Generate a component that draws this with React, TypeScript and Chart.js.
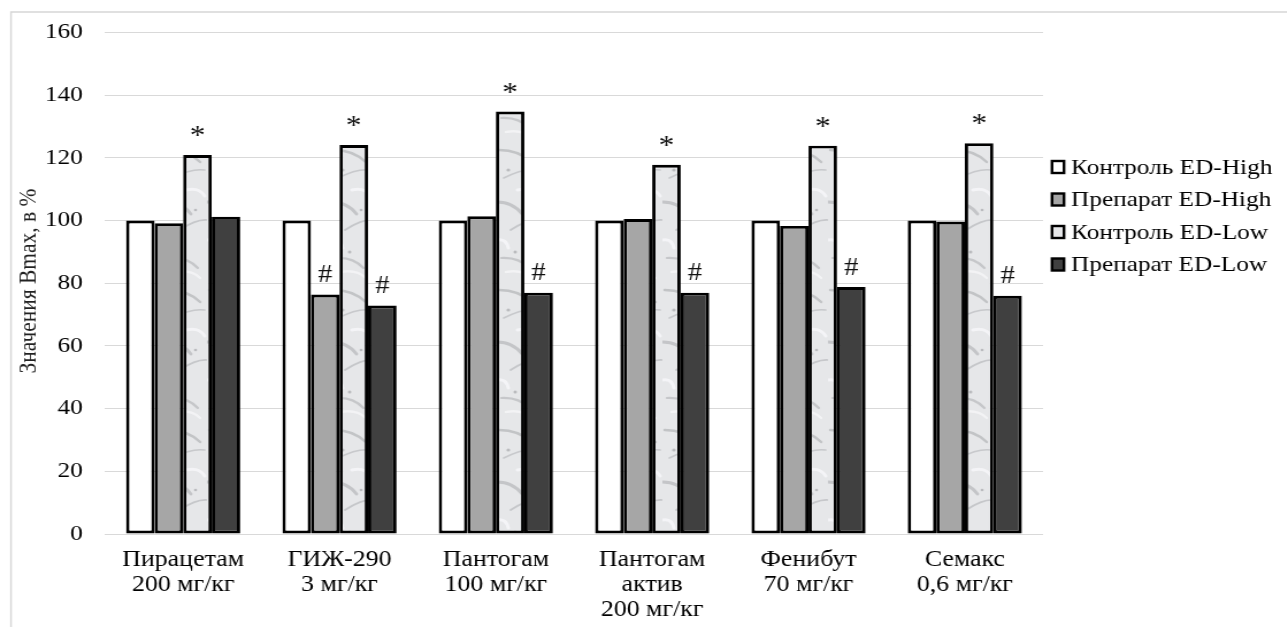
import React, { useEffect, useRef } from "react";
import { Chart, registerables } from "chart.js";
Chart.register(...registerables);

// ---- data ----
const categories: string[][] = [
  ["Пирацетам", "200 мг/кг"],
  ["ГИЖ-290", "3 мг/кг"],
  ["Пантогам", "100 мг/кг"],
  ["Пантогам", "актив", "200 мг/кг"],
  ["Фенибут", "70 мг/кг"],
  ["Семакс", "0,6 мг/кг"],
];
const seriesNames = ["Контроль ED-High", "Препарат ED-High", "Контроль ED-Low", "Препарат ED-Low"];
const controlHigh = [100, 100, 100, 100, 100, 100];
const drugHigh = [99.2, 76.4, 101.4, 100.5, 98.3, 99.7];
const controlLow = [120.9, 124.1, 134.8, 117.8, 123.9, 124.7];
const drugLow = [101.2, 72.9, 77.0, 77.0, 78.8, 76.0];
const controlHighMarks = ["", "", "", "", "", ""];
const drugHighMarks = ["", "#", "", "", "", ""];
const controlLowMarks = ["*", "*", "*", "*", "*", "*"];
const drugLowMarks = ["", "#", "#", "#", "#", "#"];
const yMin = 0;
const yMax = 160;
const yStep = 20;
const yTitle = "Значения Bmax, в %";

// ---- styling ----
const STRETCH = 1.15;
const W = Math.round(1287 / STRETCH);
const H = 627;
const FONT = "'Liberation Serif', 'Times New Roman', serif";

function makeMarble(): CanvasPattern | string {
  const pc = document.createElement("canvas");
  pc.width = 36;
  pc.height = 140;
  const g = pc.getContext("2d");
  if (!g) return "#e8e9eb";
  g.fillStyle = "#e6e7e9";
  g.fillRect(0, 0, 36, 140);
  g.lineCap = "round";
  const streaks = [
    [2, 10, 30, 22, "rgba(150,152,156,0.45)", 2.4],
    [6, 38, 34, 30, "rgba(170,172,176,0.5)", 1.5],
    [0, 62, 22, 74, "rgba(145,147,151,0.4)", 2.8],
    [12, 90, 36, 80, "rgba(165,167,171,0.5)", 1.7],
    [4, 118, 28, 128, "rgba(150,152,156,0.4)", 2.2],
    [18, 50, 34, 56, "rgba(248,248,250,0.8)", 3.0],
    [0, 100, 10, 108, "rgba(248,248,250,0.8)", 3.0],
    [8, 132, 30, 138, "rgba(248,248,250,0.7)", 2.5],
  ];
  for (const s of streaks) {
    g.strokeStyle = s[4] as string;
    g.lineWidth = s[5] as number;
    g.beginPath();
    const x0 = s[0] as number, y0 = s[1] as number, x1 = s[2] as number, y1 = s[3] as number;
    g.moveTo(x0, y0);
    g.quadraticCurveTo((x0 + x1) / 2 + 3, (y0 + y1) / 2 - 6, x1, y1);
    g.stroke();
  }
  g.fillStyle = "rgba(120,122,126,0.4)";
  const spots = [[10, 30, 1.6], [26, 70, 1.3], [16, 112, 1.5]];
  for (const [sx, sy, r] of spots) {
    g.beginPath();
    g.arc(sx, sy, r, 0, Math.PI * 2);
    g.fill();
  }
  const pat = g.createPattern(pc, "repeat");
  return pat || "#e8e9eb";
}

const fills = ["#ffffff", "#a6a6a6", "MARBLE", "#404040"];
const legendFills = ["#ffffff", "#a6a6a6", "#e6e7e9", "#404040"];

export default function App() {
  const ref = useRef<HTMLCanvasElement>(null);
  useEffect(() => {
    const canvas = ref.current;
    if (!canvas) return;
    const marble = makeMarble();
    const values = [controlHigh, drugHigh, controlLow, drugLow];
    const marks = [controlHighMarks, drugHighMarks, controlLowMarks, drugLowMarks];

    const framePlugin = {
      id: "frame",
      beforeDraw(chart: any) {
        const ctx = chart.ctx;
        ctx.save();
        ctx.fillStyle = "#ffffff";
        ctx.fillRect(0, 0, chart.width, chart.height);
        ctx.strokeStyle = "#d6d6d6";
        ctx.lineWidth = 1.4;
        ctx.beginPath();
        ctx.moveTo(11 / STRETCH, chart.height + 5);
        ctx.lineTo(11 / STRETCH, 12);
        ctx.lineTo(chart.width + 5, 12);
        ctx.stroke();
        ctx.restore();
      },
    };

    const marksPlugin = {
      id: "marks",
      afterDatasetsDraw(chart: any) {
        const ctx = chart.ctx;
        ctx.save();
        ctx.fillStyle = "#111";
        ctx.textAlign = "center";
        ctx.textBaseline = "middle";
        marks.forEach((arr, i) => {
          const meta = chart.getDatasetMeta(i);
          arr.forEach((m, j) => {
            if (!m) return;
            const el = meta.data[j];
            if (m === "*") {
              ctx.font = `27px ${FONT}`;
              ctx.fillText(m, el.x, el.y - 18);
            } else {
              ctx.font = `25px ${FONT}`;
              ctx.fillText(m, el.x, el.y - 19);
            }
          });
        });
        ctx.restore();
      },
    };

    const legendPlugin = {
      id: "customLegend",
      afterDraw(chart: any) {
        const ctx = chart.ctx;
        ctx.save();
        const bx = 1052 / STRETCH;
        const bw = 12 / STRETCH;
        const bh = 12;
        const tx = 1071 / STRETCH;
        chart.data.datasets.forEach((ds: any, i: number) => {
          const cy = 167 + i * 32.5;
          ctx.fillStyle = legendFills[i];
          ctx.fillRect(bx, cy - bh / 2, bw, bh);
          ctx.strokeStyle = "#000";
          ctx.lineWidth = 2.4;
          ctx.strokeRect(bx, cy - bh / 2, bw, bh);
          ctx.fillStyle = "#000";
          ctx.font = `22px ${FONT}`;
          ctx.textAlign = "left";
          ctx.textBaseline = "middle";
          ctx.fillText(ds.label, tx, cy + 1);
        });
        ctx.restore();
      },
    };

    const yTitlePlugin = {
      id: "yTitle",
      afterDraw(chart: any) {
        const ctx = chart.ctx;
        ctx.save();
        ctx.font = `22px ${FONT}`;
        const w = ctx.measureText(yTitle).width;
        ctx.translate(29.5 / STRETCH, 281);
        ctx.rotate(-Math.PI / 2);
        ctx.scale(185 / w, 0.92);
        ctx.fillStyle = "#222";
        ctx.textAlign = "center";
        ctx.textBaseline = "middle";
        ctx.fillText(yTitle, 0, 0);
        ctx.restore();
      },
    };

    const chart = new Chart(canvas, {
      type: "bar",
      data: {
        labels: categories,
        datasets: seriesNames.map((name, i) => ({
          label: name,
          data: values[i],
          backgroundColor: fills[i] === "MARBLE" ? (marble as any) : fills[i],
          borderColor: "#000",
          borderWidth: 2.9,
          borderSkipped: false,
          categoryPercentage: 0.73,
          barPercentage: 1.0,
        })),
      },
      options: {
        responsive: false,
        animation: false,
        devicePixelRatio: 1,
        layout: { padding: { top: 32, right: W - 1043 / STRETCH, left: 0, bottom: 0 } },
        plugins: {
          legend: { display: false },
          tooltip: { enabled: false },
        },
        scales: {
          x: {
            grid: { display: false, drawTicks: false },
            border: { display: false },
            ticks: {
              font: { family: FONT, size: 22.5, lineHeight: 1.11 },
              color: "#000",
              padding: 14,
              maxRotation: 0,
              autoSkip: false,
            },
            afterFit: (s: any) => {
              s.height = 93;
            },
          },
          y: {
            min: yMin,
            max: yMax,
            ticks: {
              stepSize: yStep,
              font: { family: FONT, size: 22 },
              color: "#000",
              padding: 105 / STRETCH - 82.7 / STRETCH,
            },
            grid: { color: "#d9d9d9", lineWidth: 1, drawTicks: false },
            border: { display: false },
            afterFit: (s: any) => {
              s.width = 105 / STRETCH;
            },
          },
        },
      } as any,
      plugins: [framePlugin, marksPlugin, legendPlugin, yTitlePlugin],
    });
    return () => chart.destroy();
  }, []);

  return (
    <div
      style={{
        position: "absolute",
        left: 0,
        top: 0,
        width: 1287,
        height: 627,
        overflow: "hidden",
        background: "#fff",
      }}
    >
      <canvas
        ref={ref}
        width={W}
        height={H}
        style={{
          position: "absolute",
          left: 0,
          top: 0,
          width: W,
          height: H,
          transform: `scaleX(${STRETCH})`,
          transformOrigin: "0 0",
        }}
      />
    </div>
  );
}
